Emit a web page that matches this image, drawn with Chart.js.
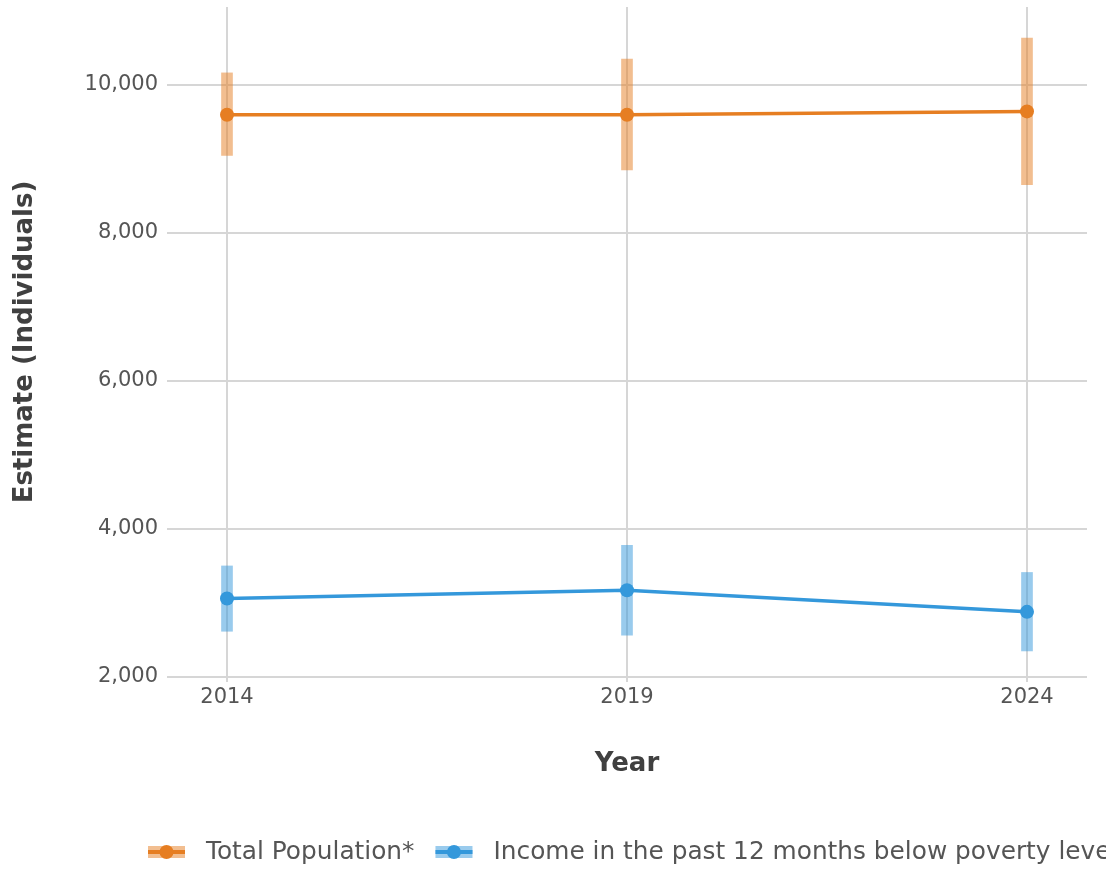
<!DOCTYPE html>
<html>
<head>
<meta charset="utf-8">
<script src="https://cdn.jsdelivr.net/npm/chart.js@4"></script>
<style>
html,body{margin:0;padding:0;background:#fff;overflow:hidden;}
#wrap{position:relative;width:1106px;height:869px;}
</style>
</head>
<body>
<div id="wrap"><canvas id="c"></canvas></div>
<script>
const years = [2014, 2019, 2024];
const totalLabel = 'Total Population*';
const totalEst = [9595, 9595, 9640];
const totalLow = [9045, 8850, 8650];
const totalHigh = [10160, 10345, 10630];
const povLabel = 'Income in the past 12 months below poverty level';
const povEst = [3060, 3172, 2880];
const povLow = [2618, 2565, 2352];
const povHigh = [3500, 3780, 3412];
const yTicks = [2000, 4000, 6000, 8000, 10000];
const xTicks = [2014, 2019, 2024];

const ORANGE = '#E67E22', ORANGE_A = 'rgba(230,126,34,0.5)';
const BLUE = '#3498DB', BLUE_A = 'rgba(52,152,219,0.5)';
const FONT = "'DejaVu Sans', sans-serif";

function pts(vals){ return years.map((y,i)=>({x:y, y:vals[i]})); }
function bars(lo,hi){ return years.map((y,i)=>({x:y, y:[lo[i],hi[i]]})); }

const legendPlugin = {
  id:'customLegend',
  afterDraw(chart){
    const ctx = chart.ctx;
    const items = chart.data.datasets.filter(d=>d.type==='line');
    let x = 148; const cy = 852;
    ctx.save();
    ctx.font = "24.8px " + FONT;
    ctx.textBaseline = 'middle';
    ctx.textAlign = 'left';
    items.forEach(d=>{
      ctx.fillStyle = d.bandColor;
      ctx.fillRect(x, cy-6, 37, 12);
      ctx.fillStyle = d.borderColor;
      ctx.fillRect(x, cy-2, 37, 4);
      ctx.beginPath(); ctx.arc(x+18.5, cy, 7, 0, Math.PI*2); ctx.fill();
      ctx.fillStyle = '#555';
      ctx.fillText(d.label, x+58, cy+1);
      x = x + 58 + ctx.measureText(d.label).width + 21;
    });
    ctx.restore();
  }
};

new Chart(document.getElementById('c'), {
  type:'line',
  data:{
    datasets:[
      {type:'line', label:totalLabel, data:pts(totalEst), borderColor:ORANGE, backgroundColor:ORANGE, bandColor:ORANGE_A,
       borderWidth:3.5, pointRadius:7, pointBorderWidth:0, pointHoverRadius:7, order:0},
      {type:'line', label:povLabel, data:pts(povEst), borderColor:BLUE, backgroundColor:BLUE, bandColor:BLUE_A,
       borderWidth:3.5, pointRadius:7, pointBorderWidth:0, pointHoverRadius:7, order:0},
      {type:'bar', label:totalLabel+' MOE', data:bars(totalLow,totalHigh), backgroundColor:ORANGE_A, borderWidth:0,
       barThickness:11, grouped:false, order:1},
      {type:'bar', label:povLabel+' MOE', data:bars(povLow,povHigh), backgroundColor:BLUE_A, borderWidth:0,
       barThickness:11, grouped:false, order:1}
    ]
  },
  options:{
    responsive:true, maintainAspectRatio:false, animation:false,
    layout:{padding:{top:7,right:19,bottom:79,left:0}},
    plugins:{legend:{display:false}, tooltip:{enabled:false}},
    scales:{
      x:{
        type:'linear', min:2013.25, max:2024.75, offset:false,
        afterBuildTicks(s){ s.ticks = xTicks.map(v=>({value:v})); },
        afterFit(s){ s.height = 113; },
        grid:{color:'#d6d6d6', lineWidth:2, drawTicks:true, tickLength:5, tickColor:'#d6d6d6', offset:false},
        border:{display:false},
        ticks:{font:{family:FONT,size:21}, color:'#555', padding:3, maxRotation:0, callback:v=>String(v)},
        title:{display:true, text:'Year', font:{family:FONT,size:26,weight:'bold'}, color:'#404040', padding:{top:0,bottom:10}}
      },
      y:{
        type:'linear', min:2000, max:11050,
        afterBuildTicks(s){ s.ticks = yTicks.map(v=>({value:v})); },
        afterFit(s){ s.width = 167; s.paddingTop = 0; s.paddingBottom = 0; },
        grid:{color:'#d6d6d6', lineWidth:2, drawTicks:false},
        border:{display:false},
        ticks:{font:{family:FONT,size:21}, color:'#555', padding:9, callback:v=>v.toLocaleString('en-US')},
        title:{display:true, text:'Estimate (Individuals)', font:{family:FONT,size:26,weight:'bold'}, color:'#404040', padding:{top:10,bottom:0}}
      }
    }
  },
  plugins:[legendPlugin]
});
</script>
</body>
</html>
